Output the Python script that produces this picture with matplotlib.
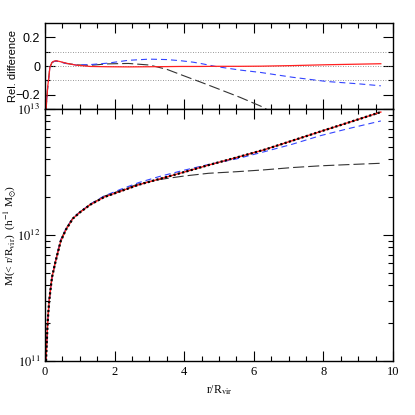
import numpy as np
import matplotlib
matplotlib.use('Agg')
import matplotlib.pyplot as plt
from matplotlib.ticker import MultipleLocator, LogLocator, FixedLocator, NullFormatter, FuncFormatter

''' Cumulative mass profile and relative difference of the models '''

# --- DATA ---
# radius (r / R_vir) for the mass profiles
r_mass = [0.03, 0.05, 0.08, 0.12, 0.2, 0.3, 0.45, 0.6, 0.8, 1.0, 1.3, 1.7,
          2.2, 2.7, 3.3, 4.0, 4.7, 5.5, 6.3, 7.1, 7.9, 8.7, 9.65]
# M(<r) in units of 1e12 h^-1 Msun
m_data = [0.10, 0.14, 0.21, 0.30, 0.46, 0.61, 0.89, 1.10, 1.35, 1.51, 1.74, 2.00,
          2.24, 2.51, 2.79, 3.16, 3.59, 4.12, 4.75, 5.60, 6.61, 7.78, 9.46]
m_blue = [0.10, 0.14, 0.21, 0.30, 0.46, 0.62, 0.91, 1.12, 1.36, 1.52, 1.76, 2.04,
          2.32, 2.61, 2.92, 3.27, 3.63, 4.02, 4.58, 5.25, 6.13, 6.97, 8.04]
m_dash = [0.10, 0.14, 0.21, 0.30, 0.46, 0.62, 0.91, 1.12, 1.36, 1.52, 1.75, 2.03,
          2.27, 2.55, 2.76, 2.94, 3.09, 3.18, 3.29, 3.43, 3.54, 3.62, 3.71]

# radius for the relative differences
r_diff = [0.03, 0.05, 0.08, 0.1, 0.14, 0.2, 0.25, 0.32, 0.45, 0.62, 0.9, 1.3, 1.8,
          2.4, 3.0, 3.5, 3.9, 4.25, 4.45, 4.9, 5.6, 6.2, 7.1, 8.1, 9.0, 9.65]
diff_red = [-0.32, -0.23, -0.14, -0.10, -0.01, 0.025, 0.033, 0.037, 0.030, 0.019, 0.006,
            -0.003, -0.005, -0.006, -0.005, -0.004, -0.003, -0.003, -0.003, -0.002,
            -0.002, -0.001, 0.003, 0.009, 0.013, 0.016]
diff_blue = [-0.32, -0.23, -0.14, -0.10, -0.01, 0.024, 0.031, 0.035, 0.028, 0.017, 0.007,
             0.010, 0.020, 0.040, 0.048, 0.045, 0.037, 0.027, 0.019, -0.003,
             -0.028, -0.045, -0.078, -0.108, -0.124, -0.138]
diff_dash = [-0.32, -0.23, -0.14, -0.10, -0.01, 0.024, 0.031, 0.035, 0.028, 0.018, 0.008,
             0.005, 0.015, 0.018, 0.007, -0.023, -0.060, -0.092, -0.110, -0.152,
             -0.218, -0.280, -0.40, -0.50, -0.57, -0.61]
ref_levels = [-0.1, 0.0, 0.1]

# --- STYLE ---
plt.rcParams['font.family'] = ['Liberation Serif', 'DejaVu Serif']
plt.rcParams['mathtext.fontset'] = 'stix'
plt.rcParams['xtick.direction'] = 'in'
plt.rcParams['ytick.direction'] = 'in'
plt.rcParams['xtick.top'] = True
plt.rcParams['ytick.right'] = True

fig = plt.figure(figsize=(4.15, 4.15), dpi=100)
ax1 = fig.add_axes([0.1084, 0.7373, 0.8386, 0.2072])
ax2 = fig.add_axes([0.1084, 0.1301, 0.8386, 0.6072], sharex=ax1)

# 1. Relative difference
for lev in ref_levels:
    ax1.axhline(lev, color='#777777', lw=0.6, ls=(0, (1, 2)))
ax1.plot(r_diff, diff_dash, color='#333333', lw=0.8, ls=(0, (10, 3.6)))
ax1.plot(r_diff, diff_blue, color='#3344ff', lw=0.8, ls=(0, (5.4, 3.6)))
ax1.plot(r_diff, diff_red, color='#ff2020', lw=0.9)
ax1.set_ylim(-0.3, 0.3)
ax1.yaxis.set_major_locator(FixedLocator([-0.2, 0.0, 0.2]))
ax1.yaxis.set_minor_locator(FixedLocator([-0.1, 0.1]))
ax1.yaxis.set_major_formatter(FuncFormatter(lambda v, p: '0' if abs(v) < 1e-9 else ('%.1f' % v).replace('-', '\u2212')))
for lab in ax1.get_yticklabels():
    lab.set_family(['Liberation Sans', 'DejaVu Sans'])
ax1.set_ylabel('Rel. difference', family=['Liberation Sans', 'DejaVu Sans'], fontsize=8)
ax1.yaxis.set_label_coords(-0.078, 0.5)
ax1.tick_params(axis='x', labelbottom=False)
ax1.tick_params(which='both', labelsize=9)
ax1.tick_params(axis='y', which='minor', length=7, width=0.8)

# 2. Mass profile
ax2.semilogy(r_mass, np.array(m_dash) * 1e12, color='#333333', lw=0.8, ls=(0, (10, 3.6)))
ax2.semilogy(r_mass, np.array(m_blue) * 1e12, color='#3344ff', lw=0.8, ls=(0, (5.4, 3.6)))
ax2.semilogy(r_mass, np.array(m_data) * 1e12, color='#ff2020', lw=1.0)
ax2.semilogy(r_mass, np.array(m_data) * 1e12, color='black', lw=1.6, ls=(0, (1, 1)))
ax2.set_ylim(1e11, 1e13)
ax2.set_xlim(0, 10)
ax2.yaxis.set_major_locator(LogLocator(base=10, numticks=5))
ax2.yaxis.set_minor_locator(LogLocator(base=10, subs=np.arange(2, 10), numticks=20))
ax2.yaxis.set_minor_formatter(NullFormatter())
ax2.yaxis.set_major_formatter(FuncFormatter(lambda v, p: r'$10^{%d}$' % round(np.log10(v))))
ax2.xaxis.set_major_locator(MultipleLocator(2))
ax2.xaxis.set_minor_locator(MultipleLocator(0.5))
ax2.xaxis.set_major_formatter(FuncFormatter(lambda v, p: '%d' % v))
ax2.set_xlabel(r'r/R$_{\rm vir}$', fontsize=8.5, labelpad=4)
ax2.set_ylabel(r'M(< r/R$_{\rm vir}$)  (h$^{-1}$ M$_{\odot}$)', fontsize=8.2)
ax2.yaxis.set_label_coords(-0.078, 0.5)
ax2.tick_params(which='both', labelsize=9)

for ax in (ax1, ax2):
    ax.tick_params(which='major', length=7, width=0.8)
    ax.tick_params(which='minor', length=3.5, width=0.8)
    for sp in ax.spines.values():
        sp.set_linewidth(1.0)

fig.savefig('out.png', dpi=100)
